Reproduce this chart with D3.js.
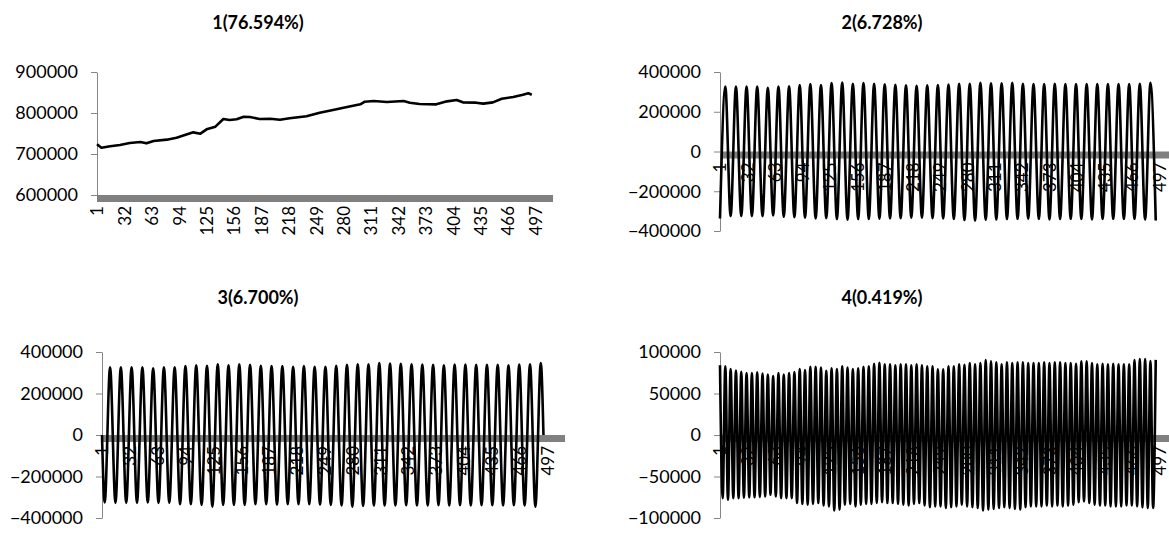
<!DOCTYPE html>
<html>
<head>
<meta charset="utf-8">
<script src="https://cdn.jsdelivr.net/npm/d3@7"></script>
<style>
  body { margin: 0; background: #fff; }
  svg { display: block; }
  text { font-family: Lato, "Open Sans", sans-serif; }
</style>
</head>
<body>
<div id="chart"></div>
<script>
// category labels on every x axis
const labelCats = d3.range(1, 498, 31);

// component 1 : trend (category, value)
const trendCat = [1, 6, 16, 27, 38, 50, 57, 65, 80, 91, 103, 110, 118, 125, 135, 144, 151, 159, 167, 174,
  185, 197, 208, 219, 238, 253, 268, 284, 299, 304, 314, 329, 348, 355, 366, 385, 397, 408, 415, 430,
  438, 449, 459, 472, 483, 489, 493];
const trendVal = [723700, 715400, 718800, 722000, 726800, 729300, 726000, 731700, 735000, 739800,
  748000, 752800, 749600, 760200, 766700, 785400, 783000, 784600, 791000, 790200,
  785400, 786000, 783700, 787000, 791900, 800700, 807300, 814600, 821100, 827600,
  829300, 826800, 829300, 825200, 822000, 821100, 828400, 831700, 826000, 825200,
  822800, 826000, 834900, 839000, 844600, 848000, 844600];

// component 2 : peaks at 7+12k, troughs at 1+12k (thousands)
const comp2Peaks = [327, 327, 327, 327, 320, 327, 328, 334, 339, 334,
  344, 347, 341, 345, 341, 338, 336, 333, 331, 333,
  334, 337, 341, 341, 346, 343, 343, 346, 341, 339,
  339, 341, 339, 339, 339, 339, 339, 339, 339, 341, 346];
const comp2Troughs = [-337, -325, -325, -325, -325, -322, -328, -330, -333, -337,
  -335, -340, -343, -340, -340, -338, -337, -335, -333, -333,
  -335, -337, -340, -345, -347, -343, -342, -340, -340, -338,
  -340, -342, -340, -340, -340, -342, -340, -340, -340, -340, -342, -347];

// component 3 : troughs at 4+12k, peaks at 10+12k (thousands), starts and ends at 0
const comp3Peaks = [326, 326, 326, 326, 321, 326, 326, 332, 336, 333,
  341, 336, 341, 338, 333, 332, 332, 329, 332, 329,
  329, 333, 338, 341, 341, 347, 344, 343, 341, 340,
  338, 336, 340, 340, 338, 338, 338, 336, 340, 341, 347];
const comp3Troughs = [-325, -327, -327, -327, -325, -327, -327, -333, -333, -337,
  -345, -337, -337, -337, -333, -333, -335, -333, -333, -333,
  -335, -337, -340, -345, -342, -340, -340, -340, -338, -340,
  -340, -338, -340, -338, -340, -338, -338, -340, -338, -340, -345];

// component 4 : peaks at 1+6k, troughs at 4+6k
const comp4Peaks = [84000, 82900, 79600, 77700, 76200, 74700, 74700, 75500, 74000, 72900,
  71000, 74700, 72900, 74700, 75900, 79600, 78400, 82100, 82100, 81400,
  77300, 80300, 79600, 82900, 81400, 79600, 80300, 82100, 82900, 85800,
  87000, 85100, 85100, 84000, 85100, 85100, 84000, 85100, 84000, 82900,
  82900, 79200, 79200, 82900, 82900, 85100, 84700, 86600, 85100, 86600,
  90300, 88800, 87700, 85100, 87700, 86600, 87700, 87700, 86600, 86600,
  86600, 87700, 86600, 87700, 87700, 86600, 86600, 85800, 88800, 88800,
  86600, 85100, 85800, 85100, 85800, 85100, 85100, 85100, 90300, 91400,
  91400, 89000, 90500];
const comp4Troughs = [-76000, -78000, -76000, -76000, -75500, -75000, -75000, -74500, -74000, -72000,
  -74000, -76000, -76000, -76000, -82000, -83000, -84000, -83000, -82000, -85000,
  -86000, -91000, -90000, -84000, -83000, -86000, -84000, -83000, -83000, -82000,
  -81000, -82000, -82000, -83000, -84000, -85000, -83000, -82000, -85000, -87000,
  -86000, -86000, -88000, -87000, -86000, -84000, -86000, -87000, -88000, -91000,
  -90000, -89000, -88000, -87000, -88000, -89000, -90000, -87000, -86000, -86000,
  -86000, -85000, -86000, -85000, -86000, -85000, -84000, -81000, -80000, -82000,
  -84000, -85000, -85000, -86000, -86000, -86000, -85000, -85000, -86000, -87000,
  -88000, -88000];

// helpers to pair the read values with their categories
function cycles(peaks, pStart, troughs, tStart, period, scale) {
  const pts = [];
  peaks.forEach((v, i) => pts.push({ c: pStart + i * period, v: v * scale }));
  troughs.forEach((v, i) => pts.push({ c: tStart + i * period, v: v * scale }));
  return pts.sort((a, b) => a.c - b.c);
}

const series1 = trendCat.map((c, i) => ({ c: c, v: trendVal[i] }));
const series2 = cycles(comp2Peaks, 7, comp2Troughs, 1, 12, 1000);
const series3 = [{ c: 1, v: 0 }].concat(cycles(comp3Peaks, 10, comp3Troughs, 4, 12, 1000), [{ c: 493, v: 0 }]);
const series4 = cycles(comp4Peaks, 1, comp4Troughs, 4, 6, 1);

const width = 1169;
const height = 533;
const svg = d3.select("#chart")
  .append("svg")
  .attr("width", width)
  .attr("height", height);

const panels = [
  { title: "1(76.594%)", tx: 258, ty: 29, left: 97, right: 553, top: 72, bottom: 195,
    domain: [600000, 900000], ticks: [600000, 700000, 800000, 900000], base: 600000,
    data: series1, curve: d3.curveLinear },
  { title: "2(6.728%)", tx: 882, ty: 29, left: 720, right: 1177, top: 72, bottom: 231,
    domain: [-400000, 400000], ticks: [-400000, -200000, 0, 200000, 400000], base: 0,
    data: series2, curve: d3.curveMonotoneX },
  { title: "3(6.700%)", tx: 258, ty: 304, left: 102, right: 565, top: 352, bottom: 518,
    domain: [-400000, 400000], ticks: [-400000, -200000, 0, 200000, 400000], base: 0,
    data: series3, curve: d3.curveMonotoneX },
  { title: "4(0.419%)", tx: 882, ty: 304, left: 720, right: 1177, top: 352, bottom: 518,
    domain: [-100000, 100000], ticks: [-100000, -50000, 0, 50000, 100000], base: 0,
    data: series4, curve: d3.curveMonotoneX }
];

panels.forEach(p => {
  const g = svg.append("g");

  // Create the scales
  const x = d3.scaleLinear().domain([1, 517]).range([p.left, p.right]);
  const y = d3.scaleLinear().domain(p.domain).range([p.bottom, p.top]);

  // Title
  g.append("text")
    .attr("x", p.tx)
    .attr("y", p.ty)
    .attr("text-anchor", "middle")
    .attr("font-size", 18)
    .attr("font-weight", "bold")
    .text(p.title);

  // y axis
  const yAxis = g.append("g")
    .attr("transform", `translate(${p.left}, 0)`)
    .call(d3.axisLeft(y).tickValues(p.ticks).tickSize(6).tickSizeOuter(0).tickPadding(13).tickFormat(d3.format("d")));
  yAxis.select(".domain").attr("stroke", "#868686");
  yAxis.selectAll(".tick line").attr("stroke", "#868686");
  yAxis.selectAll("text").attr("font-size", 18).attr("fill", "#000")
    .style("font-family", "Lato, sans-serif");

  // x axis: thick grey bar + rotated labels
  g.append("rect")
    .attr("x", p.left)
    .attr("y", y(p.base))
    .attr("width", p.right - p.left)
    .attr("height", 7)
    .attr("fill", "#808080");

  const xAxis = g.append("g")
    .attr("transform", `translate(0, ${y(p.base) + 7})`)
    .call(d3.axisBottom(x).tickValues(labelCats).tickSize(0).tickFormat(d3.format("d")));
  xAxis.select(".domain").remove();
  xAxis.selectAll("text")
    .attr("font-size", 17)
    .attr("fill", "#000")
    .style("font-family", "Lato, sans-serif")
    .attr("text-anchor", "end")
    .attr("transform", "rotate(-90)")
    .attr("x", -4)
    .attr("y", 0)
    .attr("dy", "0.35em");

  // the line
  const line = d3.line()
    .x(d => x(d.c))
    .y(d => y(d.v))
    .curve(p.curve);
  g.append("path")
    .datum(p.data)
    .attr("d", line)
    .attr("fill", "none")
    .attr("stroke", "#000")
    .attr("stroke-width", 2.6)
    .attr("stroke-linejoin", "round");
});
</script>
</body>
</html>
